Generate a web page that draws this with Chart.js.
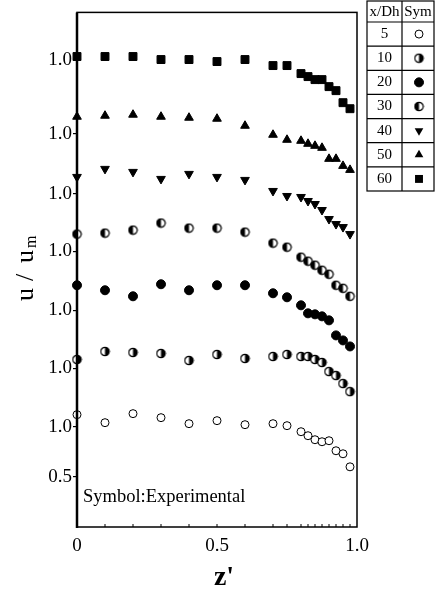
<!DOCTYPE html>
<html><head><meta charset="utf-8">
<style>html,body{margin:0;padding:0;background:#fff}#wrap{position:relative;width:435px;height:589px}canvas{display:block}</style>
<script src="https://cdn.jsdelivr.net/npm/chart.js@4"></script>
</head><body><div id="wrap"><canvas id="c" width="435" height="589"></canvas></div>
<script>
// ---- data ----
const zPositions = [0,0.1,0.2,0.3,0.4,0.5,0.6,0.7,0.75,0.8,0.825,0.85,0.875,0.9,0.925,0.95,0.975];
const seriesNames = ['5','10','20','30','40','50','60'];
const u5  = [1.12,1.04,1.13,1.09,1.03,1.06,1.02,1.03,1.01,0.95,0.91,0.87,0.85,0.86,0.76,0.73,0.60];
const u10 = [1.09,1.17,1.16,1.15,1.08,1.14,1.10,1.12,1.14,1.12,1.12,1.09,1.06,0.97,0.93,0.85,0.77];
const u20 = [1.25,1.20,1.14,1.26,1.20,1.25,1.25,1.17,1.13,1.05,0.97,0.96,0.94,0.90,0.75,0.70,0.64];
const u30 = [1.17,1.18,1.21,1.28,1.23,1.23,1.19,1.08,1.04,0.94,0.90,0.86,0.81,0.77,0.66,0.63,0.55];
const u40 = [1.17,1.25,1.22,1.15,1.20,1.17,1.14,1.03,0.98,0.97,0.93,0.90,0.84,0.75,0.70,0.67,0.60];
const u50 = [1.17,1.18,1.19,1.17,1.16,1.15,1.08,0.99,0.94,0.93,0.90,0.88,0.86,0.75,0.75,0.68,0.64];
const u60 = [1.03,1.03,1.03,1.00,1.00,0.98,1.00,0.94,0.94,0.86,0.83,0.80,0.80,0.73,0.69,0.57,0.51];
const profileOffsets = [0,0.58,1.16,1.75,2.32,2.92,3.66];
const yTickValues = [0.5,1.0,1.58,2.16,2.75,3.32,3.92,4.66];
const yTickLabels = ['0.5','1.0','1.0','1.0','1.0','1.0','1.0','1.0'];
const xTickValues = [0,0.5,1.0];
const xTickLabels = ['0','0.5','1.0'];
const allSeries = [u5,u10,u20,u30,u40,u50,u60];

const FONT = '"Liberation Serif","Times New Roman",serif';

function halfCircle(side){
  const c = document.createElement('canvas'); c.width = 11; c.height = 11;
  const g = c.getContext('2d'); const cx = 5.5, cy = 5.5, r = 4.2;
  g.fillStyle = '#fff'; g.beginPath(); g.arc(cx,cy,r,0,2*Math.PI); g.fill();
  g.fillStyle = '#000'; g.beginPath();
  if (side === 'right') g.arc(cx,cy,r,-Math.PI/2,Math.PI/2); else g.arc(cx,cy,r,Math.PI/2,3*Math.PI/2);
  g.closePath(); g.fill();
  g.strokeStyle = '#000'; g.lineWidth = 1.2; g.beginPath(); g.arc(cx,cy,r,0,2*Math.PI); g.stroke();
  return c;
}
const half10 = halfCircle('right');
const half30 = halfCircle('left');

const styles = [
  {pointStyle:'circle', radius:4, bg:'#fff', bw:1, rot:0},
  {pointStyle:half10, radius:5, bg:'#000', bw:0, rot:0},
  {pointStyle:'circle', radius:4.5, bg:'#000', bw:1, rot:0},
  {pointStyle:half30, radius:5, bg:'#000', bw:0, rot:0},
  {pointStyle:'triangle', radius:5, bg:'#000', bw:1, rot:180},
  {pointStyle:'triangle', radius:5, bg:'#000', bw:1, rot:0},
  {pointStyle:'rect', radius:5.6, bg:'#000', bw:1, rot:0}
];

const datasets = allSeries.map((arr, i) => ({
  label: seriesNames[i],
  data: arr.map((u, j) => ({x: zPositions[j], y: u + profileOffsets[i]})),
  pointStyle: styles[i].pointStyle,
  pointRadius: styles[i].radius,
  pointRotation: styles[i].rot,
  pointBackgroundColor: styles[i].bg,
  pointBorderColor: '#000',
  pointBorderWidth: styles[i].bw,
  showLine: false,
  clip: false
}));

function drawSymbol(ctx, i, x, y){
  const s = styles[i];
  ctx.save();
  ctx.fillStyle = s.bg; ctx.strokeStyle = '#000'; ctx.lineWidth = s.bw;
  if (typeof s.pointStyle !== 'string') { ctx.drawImage(s.pointStyle, x - 5.5, y - 5.5); }
  else if (s.pointStyle === 'circle') { ctx.beginPath(); ctx.arc(x,y,s.radius,0,2*Math.PI); ctx.fill(); ctx.stroke(); }
  else if (s.pointStyle === 'rect') { const h = s.radius*Math.SQRT1_2; ctx.fillRect(x-h,y-h,2*h,2*h); }
  else { const r = s.radius, d = s.rot ? -1 : 1; ctx.beginPath();
    ctx.moveTo(x, y - d*r); ctx.lineTo(x - r*0.866, y + d*r*0.5); ctx.lineTo(x + r*0.866, y + d*r*0.5); ctx.closePath(); ctx.fill(); }
  ctx.restore();
}

const decor = {
  id: 'decor',
  afterDraw(chart){
    const ctx = chart.ctx, a = chart.chartArea, xs = chart.scales.x;
    ctx.save();
    ctx.strokeStyle = '#000';
    ctx.lineWidth = 1.5;
    ctx.strokeRect(a.left, a.top, a.right - a.left, a.bottom - a.top);
    ctx.lineWidth = 2.5;
    ctx.beginPath(); ctx.moveTo(a.left, a.top); ctx.lineTo(a.left, a.bottom + 1); ctx.stroke();
    ctx.lineWidth = 1;
    zPositions.forEach(z => { const px = xs.getPixelForValue(z); ctx.beginPath(); ctx.moveTo(px, a.bottom); ctx.lineTo(px, a.bottom - 3); ctx.stroke(); });
    ctx.fillStyle = '#000';
    // Symbol text
    ctx.font = '18.5px ' + FONT; ctx.textAlign = 'left'; ctx.textBaseline = 'alphabetic';
    ctx.fillText('Symbol:Experimental', 83, 502);
    // x title
    ctx.font = 'bold 28px ' + FONT; ctx.textAlign = 'center';
    ctx.fillText("z'", 224, 585);
    // y title
    ctx.save();
    ctx.translate(33, 305); ctx.rotate(-Math.PI/2);
    ctx.textAlign = 'left';
    ctx.font = '26px ' + FONT;
    ctx.fillText('u', 4, 0);
    ctx.fillText('/', 24, 0);
    ctx.fillText('u', 42, 0);
    ctx.font = '16px ' + FONT;
    ctx.fillText('m', 57, 3);
    ctx.restore();
    // legend table
    const L = 367, R = 434, T = 1, B = 191, D = 402, step = (B - 22) / 7;
    ctx.lineWidth = 1.2;
    ctx.strokeRect(L, T, R - L, B - T);
    ctx.beginPath(); ctx.moveTo(D, T); ctx.lineTo(D, B); ctx.stroke();
    for (let k = 0; k < 7; k++) { const yy = 22 + k*step; ctx.beginPath(); ctx.moveTo(L, yy); ctx.lineTo(R, yy); ctx.stroke(); }
    ctx.textAlign = 'center'; ctx.textBaseline = 'middle';
    ctx.font = '15px ' + FONT;
    ctx.fillText('x/Dh', (L + D)/2, 12);
    ctx.fillText('Sym', (D + R)/2, 12);
    for (let k = 0; k < 7; k++) {
      const cy = 22 + (k + 0.5)*step;
      ctx.fillText(seriesNames[k], (L + D)/2, cy);
      drawSymbol(ctx, k, (D + R)/2 + 1, cy);
    }
    ctx.restore();
  }
};

new Chart(document.getElementById('c'), {
  type: 'scatter',
  data: { datasets },
  options: {
    responsive: false, animation: false,
    layout: { padding: { top: 4, right: 78, left: 0, bottom: 0 } },
    plugins: { legend: { display: false }, tooltip: { enabled: false } },
    scales: {
      x: {
        type: 'linear', min: 0, max: 1,
        afterBuildTicks: s => { s.ticks = xTickValues.map(v => ({value: v})); },
        afterFit: s => { s.height = 62; },
        ticks: { autoSkip: false, maxRotation: 0, callback: (v, i) => xTickLabels[i], font: { family: FONT, size: 19 }, color: '#000', padding: 8 },
        grid: { drawOnChartArea: false, drawTicks: false },
        border: { display: false }
      },
      y: {
        type: 'linear', min: 0, max: 5.13,
        afterBuildTicks: s => { s.ticks = yTickValues.map(v => ({value: v})); },
        afterFit: s => { s.width = 77; },
        ticks: { autoSkip: false, callback: (v, i) => yTickLabels[i], font: { family: FONT, size: 19 }, color: '#000', padding: 1 },
        grid: { drawOnChartArea: false, drawTicks: true, tickLength: 4, color: '#000', lineWidth: 1.2 },
        border: { display: false }
      }
    }
  },
  plugins: [decor]
});
</script>
</body></html>
